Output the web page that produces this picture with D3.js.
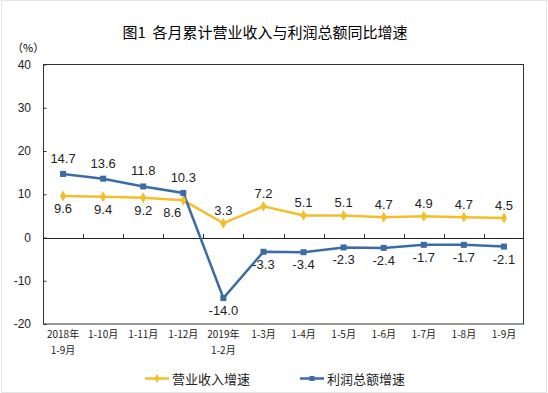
<!DOCTYPE html>
<html>
<head>
<meta charset="utf-8">
<script src="https://cdn.jsdelivr.net/npm/d3@7"></script>
<style>
  body { margin: 0; background: #fff; }
  text { font-family: "Liberation Sans", Arial, "Noto Sans CJK SC", sans-serif; }
</style>
</head>
<body>
<script>
const width = 548, height = 393;

// data
const categories = ['2018年|1-9月', '1-10月', '1-11月', '1-12月', '2019年|1-2月', '1-3月', '1-4月', '1-5月', '1-6月', '1-7月', '1-8月', '1-9月'];
const revenue = [9.6, 9.4, 9.2, 8.6, 3.3, 7.2, 5.1, 5.1, 4.7, 4.9, 4.7, 4.5];
const profit = [14.7, 13.6, 11.8, 10.3, -14.0, -3.3, -3.4, -2.3, -2.4, -1.7, -1.7, -2.1];
const yTicks = [-20, -10, 0, 10, 20, 30, 40];
// label above (-1) or below (1) the point
const revenuePos = [1, 1, 1, 1, -1, -1, -1, -1, -1, -1, -1, -1];
const profitPos = [-1, -1, -1, -1, 1, 1, 1, 1, 1, 1, 1, 1];

const yellow = '#f2bf2b', blue = '#3a6ca5';
const cjk = '"Noto Sans CJK SC", sans-serif';

let svg = d3.select('body').append('svg')
  .attr('width', width)
  .attr('height', height);

svg.append('rect')
  .attr('x', 1.5).attr('y', 0.5)
  .attr('width', width - 3).attr('height', height - 1)
  .attr('fill', 'none').attr('stroke', '#e4e4e4');

const x = d3.scaleBand().domain(categories).range([43, 524]);
const y = d3.scaleLinear().domain([-20, 40]).range([324, 64.5]);
const cx = (d, i) => x(categories[i]) + x.bandwidth() / 2;

// title
svg.append('text')
  .attr('x', 265).attr('y', 38)
  .attr('text-anchor', 'middle')
  .style('font-family', cjk)
  .style('font-size', '15px')
  .style('fill', '#000')
  .style('white-space', 'pre')
  .text('图1  各月累计营业收入与利润总额同比增速');

svg.append('text')
  .attr('x', 12).attr('y', 52)
  .style('font-family', cjk)
  .style('font-size', '11px')
  .text('（%）');

// plot box
svg.append('rect')
  .attr('x', 43.5).attr('y', 64.5)
  .attr('width', 480).attr('height', 259.5)
  .attr('fill', 'none')
  .attr('stroke', '#333')
  .attr('stroke-width', 1);

// y axis
const yAxis = svg.append('g')
  .attr('transform', 'translate(43.5,0)')
  .call(d3.axisRight(y).tickValues(yTicks).tickSize(3).tickFormat(''));
yAxis.select('.domain').remove();
yAxis.selectAll('line').attr('stroke', '#333');

svg.append('g').selectAll('text')
  .data(yTicks).enter().append('text')
  .attr('x', 31).attr('y', d => y(d))
  .attr('dy', '0.35em')
  .attr('text-anchor', 'end')
  .style('font-size', '12px')
  .style('fill', '#222')
  .text(d => d);

// zero line with category ticks
svg.append('line')
  .attr('x1', 43).attr('x2', 524)
  .attr('y1', Math.round(y(0)) + 0.5).attr('y2', Math.round(y(0)) + 0.5)
  .attr('stroke', '#222');

svg.append('g').selectAll('line')
  .data(categories.slice(1)).enter().append('line')
  .attr('x1', d => Math.round(x(d)) + 0.5).attr('x2', d => Math.round(x(d)) + 0.5)
  .attr('y1', Math.round(y(0)) - 4).attr('y2', Math.round(y(0)))
  .attr('stroke', '#333');

// x labels
const xl = svg.append('g').selectAll('text')
  .data(categories).enter().append('text')
  .attr('x', (d, i) => cx(d, i))
  .attr('y', 338)
  .attr('text-anchor', 'middle')
  .style('font-family', cjk)
  .style('font-size', '10px')
  .style('fill', '#222');
xl.each(function (d) {
  d.split('|').forEach((s, k) => {
    d3.select(this).append('tspan')
      .attr('x', d3.select(this).attr('x'))
      .attr('dy', k === 0 ? 0 : 16)
      .text(s);
  });
});

// lines
const line = d3.line().x((d, i) => cx(d, i)).y(d => y(d));

svg.append('path').datum(revenue)
  .attr('d', line).attr('fill', 'none')
  .attr('stroke', yellow).attr('stroke-width', 2.5);
svg.append('path').datum(profit)
  .attr('d', line).attr('fill', 'none')
  .attr('stroke', blue).attr('stroke-width', 2.5);

// markers
svg.append('g').selectAll('path')
  .data(revenue).enter().append('path')
  .attr('d', d3.symbol().type(d3.symbolDiamond).size(34))
  .attr('transform', (d, i) => 'translate(' + cx(d, i) + ',' + y(d) + ')')
  .attr('fill', yellow);
svg.append('g').selectAll('rect')
  .data(profit).enter().append('rect')
  .attr('x', (d, i) => cx(d, i) - 3).attr('y', d => y(d) - 3)
  .attr('width', 6).attr('height', 6)
  .attr('fill', blue);

// value labels
function labels(values, pos, above, shift) {
  svg.append('g').selectAll('text')
    .data(values).enter().append('text')
    .attr('x', (d, i) => cx(d, i) + (shift[i] || 0))
    .attr('y', (d, i) => y(d) + (pos[i] > 0 ? 17 : above))
    .attr('text-anchor', 'middle')
    .style('font-size', '13px')
    .style('fill', '#222')
    .text(d => d.toFixed(1));
}
labels(revenue, revenuePos, -8, [0, 0, 0, -11]);
labels(profit, profitPos, -11, []);

// legend
const legend = [
  { name: '营业收入增速', color: yellow, x: 145, type: 'diamond' },
  { name: '利润总额增速', color: blue, x: 300, type: 'square' }
];
legend.forEach(function (l) {
  svg.append('line')
    .attr('x1', l.x).attr('x2', l.x + 24)
    .attr('y1', 378.5).attr('y2', 378.5)
    .attr('stroke', l.color).attr('stroke-width', 2.5);
  if (l.type === 'diamond') {
    svg.append('path')
      .attr('d', d3.symbol().type(d3.symbolDiamond).size(24))
      .attr('transform', 'translate(' + (l.x + 12) + ',378.5)')
      .attr('fill', l.color);
  } else {
    svg.append('rect')
      .attr('x', l.x + 9.5).attr('y', 376).attr('width', 5).attr('height', 5)
      .attr('fill', l.color);
  }
  svg.append('text')
    .attr('x', l.x + 27).attr('y', 379)
    .attr('dy', '0.35em')
    .style('font-family', cjk)
    .style('font-size', '13px')
    .style('fill', '#222')
    .text(l.name);
});
</script>
</body>
</html>
